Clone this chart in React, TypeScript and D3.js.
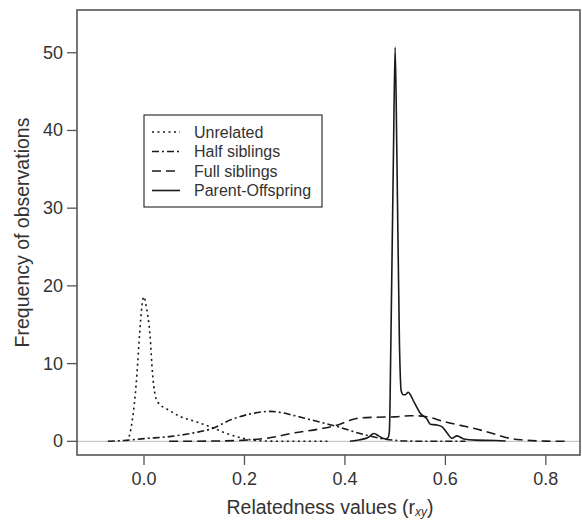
import React from "react";
import * as d3 from "d3";

const W = 582;
const H = 521;

const xTicks = [0.0, 0.2, 0.4, 0.6, 0.8];
const yTicks = [0, 10, 20, 30, 40, 50];

const unrelatedX = [-0.035, -0.028, -0.014, -0.009, -0.004, 0.0, 0.004, 0.012, 0.017, 0.022, 0.028, 0.046, 0.072, 0.105, 0.138, 0.165, 0.197, 0.225, 0.26, 0.3, 0.37];
const unrelatedY = [0, 1.0, 8.7, 13.6, 17.5, 18.6, 17.5, 13.6, 8.7, 6.0, 5.0, 4.15, 3.2, 2.5, 1.7, 1.0, 0.4, 0.1, 0.02, 0, 0];

const halfX = [-0.072, -0.04, 0.0, 0.05, 0.1, 0.134, 0.174, 0.21, 0.252, 0.3, 0.33, 0.385, 0.43, 0.478, 0.52, 0.56, 0.64];
const halfY = [0, 0.1, 0.35, 0.6, 1.1, 1.6, 2.8, 3.5, 3.85, 3.3, 2.8, 1.9, 1.0, 0.3, 0.05, 0, 0];

const fullX = [0.05, 0.15, 0.2, 0.25, 0.3, 0.35, 0.39, 0.41, 0.43, 0.46, 0.5, 0.53, 0.56, 0.597, 0.63, 0.664, 0.7, 0.72, 0.75, 0.8, 0.84];
const fullY = [0, 0.05, 0.15, 0.45, 1.1, 1.6, 2.2, 2.7, 3.0, 3.1, 3.15, 3.3, 3.2, 2.55, 2.05, 1.55, 0.9, 0.5, 0.2, 0.03, 0];

const poX = [0.41, 0.43, 0.445, 0.458, 0.467, 0.475, 0.482, 0.486, 0.4885, 0.4914, 0.4966, 0.5, 0.5034, 0.5086, 0.512, 0.516, 0.52, 0.526, 0.538, 0.55, 0.563, 0.57, 0.583, 0.593, 0.603, 0.613, 0.623, 0.637, 0.66, 0.7, 0.72];
const poY = [0, 0.2, 0.45, 1.0, 0.7, 0.4, 0.3, 0.5, 1.3, 12.4, 37, 50.7, 37, 12.4, 6.5, 6.0, 6.0, 6.3, 5.0, 3.6, 2.9, 2.2, 2.1, 1.9, 1.1, 0.4, 0.7, 0.3, 0.15, 0.1, 0.05];

const seriesNames = ["Unrelated", "Half siblings", "Full siblings", "Parent-Offspring"];
const dashes = ["2,3.5", "7,3,2,3", "9,5", ""];
const seriesX = [unrelatedX, halfX, fullX, poX];
const seriesY = [unrelatedY, halfY, fullY, poY];

const left = 77;
const right = 580;
const top = 10;
const bottom = 455;

export default function App() {
  const x = d3.scaleLinear().domain([-0.1334, 0.868]).range([left, right]);
  const y = d3.scaleLinear().domain([-1.76, 55.5]).range([bottom, top]);
  const line = d3
    .line<[number, number]>()
    .x((d) => x(d[0]))
    .y((d) => y(d[1]))
    .curve(d3.curveMonotoneX);

  const font = "'Liberation Sans', Arial, Helvetica, sans-serif";
  const axisColor = "#555";
  const textColor = "#333";

  return (
    <svg
      width={W}
      height={H}
      style={{ position: "absolute", left: 0, top: 0, background: "#fff" }}
      fontFamily={font}
    >
      <rect x={0} y={0} width={W} height={H} fill="#fff" />
      {/* zero line */}
      <line x1={left} x2={right} y1={y(0)} y2={y(0)} stroke="#bbb" strokeWidth={1} />
      {/* series */}
      {seriesX.map((xs, i) => {
        const pts = xs.map((v, j) => [v, seriesY[i][j]] as [number, number]);
        return (
          <path
            key={i}
            d={line(pts) || ""}
            fill="none"
            stroke="#1a1a1a"
            strokeWidth={1.6}
            strokeDasharray={dashes[i] || undefined}
            strokeLinejoin="round"
          />
        );
      })}
      {/* box */}
      <rect
        x={left}
        y={top}
        width={right - left}
        height={bottom - top}
        fill="none"
        stroke={axisColor}
        strokeWidth={1.6}
      />
      {/* y ticks */}
      {yTicks.map((t) => (
        <g key={"y" + t}>
          <line x1={left - 10} x2={left} y1={y(t)} y2={y(t)} stroke={axisColor} strokeWidth={1.3} />
          <text
            x={left - 14}
            y={y(t)}
            textAnchor="end"
            dominantBaseline="central"
            fontSize={18}
            fill={textColor}
          >
            {t}
          </text>
        </g>
      ))}
      {/* x ticks */}
      {xTicks.map((t) => (
        <g key={"x" + t}>
          <line x1={x(t)} x2={x(t)} y1={bottom} y2={bottom + 10} stroke={axisColor} strokeWidth={1.3} />
          <text
            x={x(t)}
            y={479}
            textAnchor="middle"
            dominantBaseline="central"
            fontSize={18}
            fill={textColor}
          >
            {t.toFixed(1)}
          </text>
        </g>
      ))}
      {/* axis titles */}
      <text x={330} y={507} textAnchor="middle" dominantBaseline="central" fontSize={19.5} fill={textColor}>
        Relatedness values (r
        <tspan fontSize={12} fontStyle="italic" dy={5}>xy</tspan>
        <tspan dy={-5}>)</tspan>
      </text>
      <text
        transform={`translate(22,${(top + bottom) / 2 + 0}) rotate(-90)`}
        textAnchor="middle"
        dominantBaseline="central"
        fontSize={19.5}
        fill={textColor}
      >
        Frequency of observations
      </text>
      {/* legend */}
      <rect x={144} y={115} width={178} height={92} fill="#fff" stroke="#222" strokeWidth={1.1} />
      {seriesNames.map((name, i) => {
        const ly = 132 + i * 19.5;
        return (
          <g key={name}>
            <line
              x1={152}
              x2={180}
              y1={ly}
              y2={ly}
              stroke="#1a1a1a"
              strokeWidth={1.6}
              strokeDasharray={dashes[i] || undefined}
            />
            <text x={194} y={ly} dominantBaseline="central" fontSize={16} fill={textColor}>
              {name}
            </text>
          </g>
        );
      })}
    </svg>
  );
}
